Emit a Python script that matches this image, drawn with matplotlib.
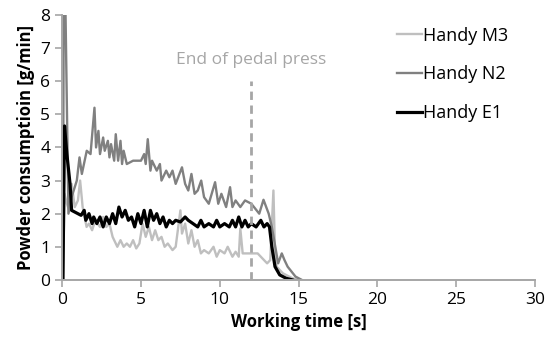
import matplotlib.pyplot as plt

plt.rcParams['font.family'] = ['Open Sans', 'DejaVu Sans']

# Handy M3 (light grey)
t_m3 = [0.05, 0.15, 0.3, 0.45, 0.6, 0.8, 1.0, 1.14, 1.3, 1.55, 1.7, 1.9, 2.1, 2.4, 2.6, 2.8, 3.0, 3.2,
        3.5, 3.7, 3.9, 4.1, 4.3, 4.5, 4.7, 4.9, 5.1, 5.3, 5.5, 5.7, 5.9, 6.1, 6.3, 6.5, 6.7,
        7.0, 7.2, 7.5, 7.6, 7.8, 8.0, 8.2, 8.4, 8.6, 8.8, 9.0, 9.3, 9.6, 9.8, 10.0, 10.3,
        10.5, 10.8, 11.0, 11.2, 11.3, 11.45, 11.6, 12.0, 12.4, 12.8, 13.0, 13.2, 13.4, 13.5,
        13.6, 14.0, 14.6, 15.0]
v_m3 = [0.0, 2.6, 2.3, 2.1, 2.9, 2.2, 2.4, 3.0, 2.2, 1.6, 1.7, 1.5, 1.8, 1.6, 1.9, 1.6, 1.7, 1.3,
        1.0, 1.2, 1.0, 1.1, 1.0, 1.2, 0.95, 1.1, 1.7, 1.3, 1.6, 1.2, 1.5, 1.2, 1.3, 1.0, 1.1,
        0.9, 1.0, 2.1, 1.4, 1.7, 1.1, 1.5, 1.0, 1.2, 0.8, 0.9, 0.8, 1.0, 0.7, 0.9, 0.8,
        1.0, 0.7, 0.85, 0.7, 1.55, 0.8, 0.8, 0.8, 0.8, 0.6, 0.5, 0.6, 2.7, 0.8,
        0.4, 0.2, 0.05, 0.0]

# Handy N2 (mid grey)
t_n2 = [0.05, 0.1, 0.2, 0.4, 0.6, 0.93, 1.1, 1.25, 1.56, 1.8, 2.05, 2.15, 2.3, 2.4, 2.6, 2.7, 2.9,
        3.0, 3.1, 3.3, 3.4, 3.55, 3.7, 3.8, 3.9, 4.1, 4.5, 5.0, 5.2, 5.3, 5.43, 5.6, 5.7,
        6.0, 6.2, 6.3, 6.6, 6.8, 7.0, 7.2, 7.6, 7.8, 8.0, 8.2, 8.4, 8.6, 8.82, 9.0, 9.3,
        9.7, 9.9, 10.1, 10.4, 10.65, 10.8, 11.0, 11.3, 11.6, 12.0, 12.5, 12.77, 13.1, 13.3,
        13.7, 13.93, 14.1, 14.3, 14.8, 15.2]
v_n2 = [0.0, 8.5, 8.5, 2.0, 2.5, 3.0, 3.7, 3.2, 3.9, 3.8, 5.2, 4.0, 4.5, 3.8, 4.3, 3.9, 4.2,
        3.7, 4.1, 3.6, 4.4, 3.6, 4.2, 3.5, 3.9, 3.5, 3.6, 3.6, 3.8, 3.5, 4.25, 3.3, 3.6,
        3.3, 3.5, 3.0, 3.3, 3.1, 3.3, 2.9, 3.4, 2.9, 2.7, 3.2, 2.6, 2.7, 3.0, 2.5, 2.3,
        2.95, 2.3, 2.6, 2.2, 2.8, 2.2, 2.4, 2.2, 2.4, 2.3, 2.0, 2.42, 2.0, 1.6,
        0.5, 0.8, 0.6, 0.4, 0.1, 0.0]

# Handy E1 (black)
t_e1 = [0.05, 0.15, 0.3, 0.5, 0.6, 0.8, 1.0, 1.2, 1.4, 1.5, 1.7, 1.9, 2.0, 2.2, 2.4, 2.6, 2.8,
        3.0, 3.2, 3.4, 3.6, 3.8, 4.0, 4.2, 4.4, 4.6, 4.8, 5.0, 5.2, 5.4, 5.6, 5.8, 6.0,
        6.2, 6.4, 6.6, 6.8, 7.0, 7.2, 7.5, 7.8, 8.0, 8.3, 8.6, 8.8, 9.0, 9.3, 9.6, 9.8,
        10.0, 10.3, 10.6, 10.8, 11.0, 11.2, 11.4, 11.6, 11.8, 12.0, 12.3, 12.6, 12.8, 13.0,
        13.15, 13.3, 13.5, 13.8, 14.2, 14.6]
v_e1 = [0.0, 4.65, 3.8, 2.9, 2.1, 2.05, 2.0, 1.95, 2.1, 1.8, 2.0, 1.7, 1.9, 1.7, 1.9, 1.6, 1.9,
        1.7, 2.0, 1.7, 2.2, 1.9, 2.1, 1.8, 1.9, 1.6, 2.0, 1.7, 2.1, 1.6, 2.1, 1.8, 2.0,
        1.7, 1.9, 1.6, 1.8, 1.7, 1.8, 1.75, 1.9, 1.8, 1.7, 1.6, 1.8, 1.6, 1.7, 1.6, 1.8,
        1.6, 1.7, 1.6, 1.8, 1.6, 1.9, 1.6, 1.8, 1.6, 1.7, 1.6, 1.8, 1.6, 1.7,
        1.6, 1.0, 0.4, 0.15, 0.05, 0.0]

pedal_end = 12

fig = plt.figure(figsize=(5.5, 3.49), dpi=100)
ax = fig.add_axes([0.113, 0.198, 0.86, 0.759])

ax.plot(t_m3, v_m3, color='#bfbfbf', lw=1.7, label='Handy M3')
ax.plot(t_n2, v_n2, color='#808080', lw=1.7, label='Handy N2')
ax.plot(t_e1, v_e1, color='black', lw=2.3, label='Handy E1')

ax.vlines(pedal_end, 0, 6, colors='#a6a6a6', linestyles=(0, (3, 2)), lw=2)
ax.text(pedal_end, 6.65, 'End of pedal press', color='#a6a6a6', fontsize=12.5, ha='center', va='center')

ax.set_xlim(0, 30)
ax.set_ylim(0, 8)
ax.set_xticks(range(0, 31, 5))
ax.set_yticks(range(0, 9))
for s in ['top', 'right']:
    ax.spines[s].set_visible(False)
for s in ['left', 'bottom']:
    ax.spines[s].set_color('#a6a6a6')
    ax.spines[s].set_linewidth(1.4)
ax.tick_params(colors='#a6a6a6', labelcolor='black', labelsize=12.5, length=5, width=1.2)

ax.set_xlabel('Working time [s]', fontsize=12, fontweight='bold', labelpad=4)
ax.set_ylabel('Powder consumptioin [g/min]', fontsize=12, fontweight='bold', labelpad=4)

ax.legend(loc='upper left', bbox_to_anchor=(0.693, 0.97), bbox_transform=fig.transFigure,
          frameon=False, fontsize=13, handlelength=1.35, handletextpad=0.05, labelspacing=1.15)

plt.savefig('out.png')
